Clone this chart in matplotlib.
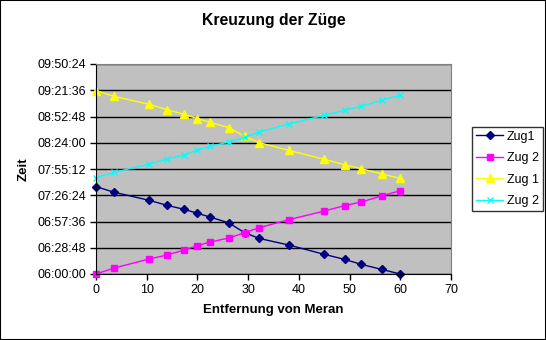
import numpy as np
import matplotlib.pyplot as plt
from matplotlib.ticker import FixedLocator, FuncFormatter
from matplotlib.patches import Rectangle

plt.rcParams['font.family'] = ['Liberation Sans', 'DejaVu Sans']

# distance from Meran (km) at each station
km = [0, 3.6, 10.5, 14, 17.4, 20, 22.5, 26.2, 29.3, 32.2, 38, 45, 49, 52.3, 56.3, 60]

# timetable of the four runs (hh:mm:ss)
zug1_a = ['07:35:50', '07:29:40', '07:20:50', '07:15:20', '07:10:55', '07:06:35',
          '07:02:30', '06:56:00', '06:45:20', '06:39:00', '06:31:50', '06:21:35',
          '06:16:05', '06:10:35', '06:05:05', '06:00:00']
zug2_a = ['06:00:00', '06:06:35', '06:16:30', '06:20:50', '06:26:20', '06:31:05',
          '06:35:05', '06:39:30', '06:45:20', '06:50:50', '06:59:35', '07:09:05',
          '07:15:00', '07:19:00', '07:25:35', '07:31:25']
zug1_b = ['09:21:05', '09:14:55', '09:06:05', '09:00:20', '08:55:10', '08:50:25',
          '08:46:25', '08:40:35', '08:31:00', '08:24:05', '08:15:40', '08:05:50',
          '07:59:55', '07:55:35', '07:49:45', '07:44:55']
zug2_b = ['07:45:40', '07:51:30', '08:00:40', '08:06:10', '08:10:35', '08:16:00',
          '08:20:00', '08:24:50', '08:29:55', '08:35:50', '08:44:35', '08:54:05',
          '08:59:35', '09:04:00', '09:10:30', '09:16:00']

labels = ['Zug1', 'Zug 2', 'Zug 1', 'Zug 2']
colors = ['#000080', '#FF00FF', '#FFFF00', '#00FFFF']
markers = ['D', 's', '^', 'x']
msizes = [4, 5, 6, 4]


def to_sec(t):
    h, m, s = [int(v) for v in t.split(':')]
    return h * 3600 + m * 60 + s


def fmt_time(v, pos):
    v = int(round(v))
    return '%02d:%02d:%02d' % (v // 3600, (v % 3600) // 60, v % 60)


fig = plt.figure(figsize=(5.46, 3.40), dpi=100)
ax = fig.add_axes([96 / 546, 1 - 274 / 340, 355 / 546, 210 / 340])
ax.set_facecolor('#C0C0C0')

for series, lab, c, m, ms in zip([zug1_a, zug2_a, zug1_b, zug2_b], labels, colors, markers, msizes):
    y = [to_sec(t) for t in series]
    ax.plot(km, y, color=c, marker=m, markersize=ms, linewidth=1,
            markeredgewidth=1, label=lab, clip_on=False)

yt = [6 * 3600 + 1728 * k for k in range(9)]
ax.set_ylim(yt[0], yt[-1])
ax.yaxis.set_major_locator(FixedLocator(yt))
ax.yaxis.set_major_formatter(FuncFormatter(fmt_time))
ax.set_xlim(0, 70)
ax.set_xticks(np.arange(0, 71, 10))
ax.grid(axis='y', color='black', linewidth=1)
ax.set_axisbelow(True)

for side in ['top', 'right']:
    ax.spines[side].set_color('#808080')
for side in ['left', 'bottom']:
    ax.spines[side].set_color('black')
ax.tick_params(direction='out', length=4, width=1, labelsize=9, pad=3)

ax.set_xlabel('Entfernung von Meran', fontsize=9.5, fontweight='bold', labelpad=6)
ax.set_ylabel('Zeit', fontsize=9.5, fontweight='bold', labelpad=6)
fig.text(274 / 546, 1 - 21 / 340, 'Kreuzung der Züge', ha='center', va='center',
         fontsize=11.3, fontweight='bold')

leg = ax.legend(loc='upper left', bbox_to_anchor=(472 / 546, 1 - 127 / 340),
                bbox_transform=fig.transFigure, fontsize=9, frameon=True,
                fancybox=False, edgecolor='black', handlelength=2.2,
                borderpad=0.3, labelspacing=0.75, handletextpad=0.3, borderaxespad=0)
leg.get_frame().set_linewidth(1)

fig.patches.append(Rectangle((0, 0), 1, 1, transform=fig.transFigure, fill=False,
                             edgecolor='black', linewidth=1.5))

fig.savefig('out.png', dpi=100)
